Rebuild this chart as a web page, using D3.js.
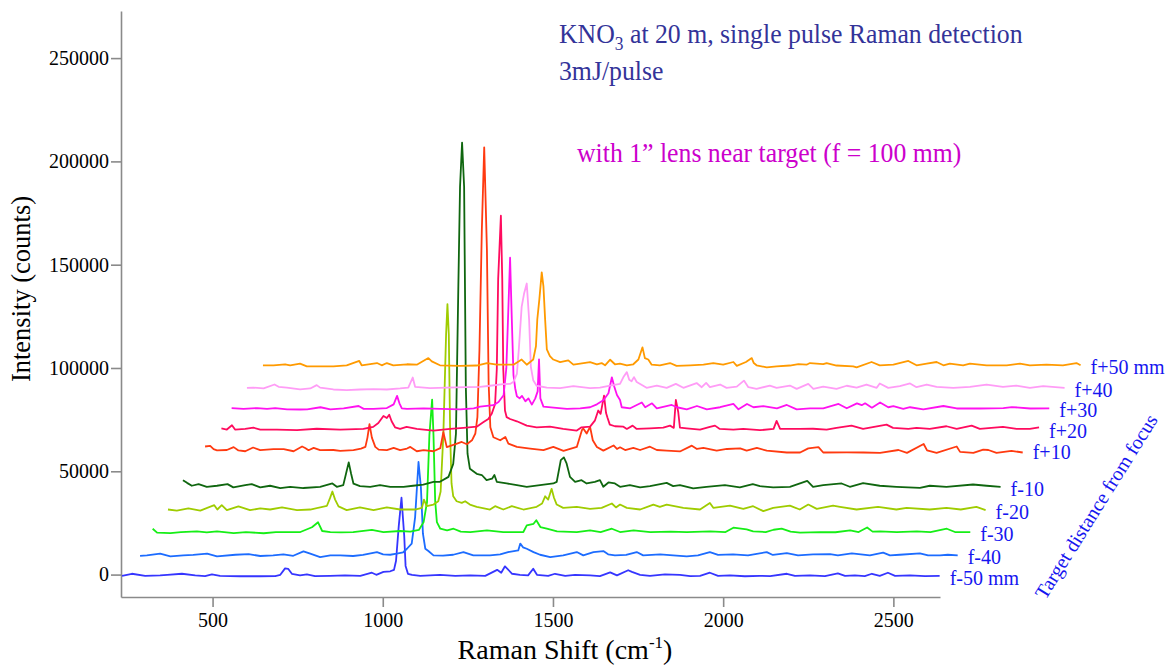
<!DOCTYPE html>
<html>
<head>
<meta charset="utf-8">
<script src="https://cdn.jsdelivr.net/npm/d3@7/dist/d3.min.js"></script>
<style>
  body { margin: 0; background: #fff; }
  svg text { font-family: "Liberation Serif", "Times New Roman", serif; }
</style>
</head>
<body>
<svg id="chart" width="1169" height="666"></svg>
<script>
// spectra: [Raman shift (cm-1), counts above the trace's own baseline]
let fm50 = [[234,0],[263,1000],[302,0],[346,200],[367,500],[410,1000],[449,200],[478,-100],[498,700],[522,0],[581,-200],[640,-200],[684,-100],[699,500],[713,3600],[722,3400],[733,1000],[757,200],[777,700],[801,-100],[845,0],[889,200],[934,0],[968,1500],[981,500],[1002,1900],[1022,2200],[1033,2900],[1039,7300],[1047,24200],[1055,37800],[1063,19400],[1067,4800],[1074,1000],[1086,500],[1110,0],[1168,500],[1213,0],[1257,200],[1301,0],[1336,2900],[1348,1500],[1359,4600],[1380,1000],[1403,500],[1427,200],[1442,3400],[1453,500],[1486,0],[1506,1000],[1536,0],[1565,500],[1609,200],[1638,-100],[1668,1700],[1688,200],[1721,2700],[1732,1900],[1756,500],[1785,0],[1829,700],[1873,500],[1903,-100],[1932,0],[1961,1500],[1985,0],[2020,200],[2064,-200],[2108,0],[2138,-100],[2187,1000],[2211,0],[2255,200],[2299,-100],[2337,1200],[2358,0],[2387,200],[2416,-100],[2437,1000],[2460,0],[2484,1500],[2505,0],[2549,200],[2593,-100],[2636,0]]

let fm40 = [[234,-200],[254,0],[293,800],[323,-500],[361,0],[390,200],[431,800],[460,-500],[514,300],[553,600],[587,-300],[625,0],[655,500],[684,-200],[714,1900],[734,800],[763,-800],[793,0],[822,0],[860,-300],[889,200],[930,1600],[948,500],[969,300],[988,800],[1007,1500],[1018,3200],[1032,5700],[1042,18400],[1052,45200],[1059,32900],[1065,10500],[1072,3200],[1081,2100],[1096,0],[1124,-100],[1154,300],[1184,1600],[1213,0],[1262,0],[1292,500],[1315,1600],[1345,2400],[1351,5700],[1359,3900],[1370,3200],[1390,1600],[1409,300],[1439,-800],[1477,0],[1517,1600],[1536,0],[1566,1600],[1595,2100],[1609,500],[1629,0],[1662,200],[1693,1600],[1712,0],[1762,500],[1800,0],[1840,-500],[1873,0],[1908,1600],[1932,200],[1976,500],[2020,0],[2075,1600],[2093,200],[2134,1100],[2167,0],[2211,500],[2261,600],[2284,0],[2325,1000],[2378,0],[2417,1300],[2437,0],[2466,300],[2525,1000],[2549,0],[2584,0],[2607,300],[2636,0]]

let fm30 = [[234,1600],[247,-300],[286,-500],[317,0],[364,300],[393,-200],[423,300],[472,-500],[508,0],[560,-600],[596,0],[629,0],[668,0],[702,2300],[720,4700],[732,500],[756,0],[787,-200],[823,0],[878,1000],[912,0],[961,500],[991,200],[1016,1000],[1030,4800],[1040,14500],[1047,46900],[1055,64100],[1059,46900],[1064,15000],[1069,4800],[1079,1600],[1099,800],[1118,1600],[1139,200],[1167,0],[1216,800],[1264,0],[1323,0],[1333,3200],[1353,4000],[1361,5700],[1373,2400],[1392,1600],[1422,300],[1480,0],[1519,800],[1550,0],[1583,1600],[1607,0],[1647,800],[1696,0],[1756,200],[1803,0],[1872,300],[1917,0],[1940,2100],[1979,1300],[1998,300],[2035,0],[2058,1100],[2082,1600],[2108,200],[2136,-300],[2195,0],[2240,-100],[2283,800],[2308,0],[2333,2200],[2349,200],[2371,300],[2420,0],[2479,300],[2519,0],[2567,1600],[2591,0],[2636,0]]

let fm20 = [[234,0],[260,-500],[294,500],[329,-500],[370,2100],[379,0],[392,2100],[407,-300],[441,1500],[475,-300],[505,500],[534,0],[569,1000],[613,-300],[652,0],[701,1800],[710,5500],[717,8700],[725,4800],[735,1500],[759,-300],[798,1000],[838,-300],[877,1000],[916,0],[960,0],[980,800],[986,4800],[994,1600],[1014,2400],[1028,4000],[1035,8700],[1043,36300],[1051,84700],[1055,99400],[1059,84700],[1063,36300],[1067,12600],[1072,6400],[1082,4000],[1097,3200],[1107,4000],[1121,2400],[1141,1300],[1180,0],[1195,1600],[1219,0],[1244,1600],[1278,0],[1317,1300],[1333,2900],[1342,6400],[1351,4800],[1361,10000],[1368,5700],[1376,2400],[1395,800],[1435,1300],[1474,300],[1508,800],[1538,2900],[1550,1000],[1562,2400],[1582,800],[1621,0],[1660,2400],[1679,1300],[1699,2400],[1748,800],[1797,0],[1826,3200],[1836,800],[1885,1900],[1924,300],[1953,1600],[1983,-800],[2012,800],[2061,1900],[2090,0],[2115,2400],[2140,300],[2188,1900],[2208,1300],[2257,0],[2320,1300],[2374,0],[2404,800],[2472,0],[2521,800],[2563,0],[2609,1300],[2636,-300]]

let fm10 = [[234,3200],[246,1900],[260,500],[280,1300],[304,0],[334,500],[365,1300],[382,-300],[417,800],[436,1300],[461,-300],[490,500],[520,-600],[549,0],[588,-600],[637,0],[673,1600],[686,0],[705,800],[713,6300],[721,11800],[728,6300],[735,1500],[754,300],[784,0],[813,800],[843,0],[882,0],[910,500],[940,1000],[970,2400],[989,2400],[1014,4800],[1028,11100],[1036,25700],[1043,96800],[1048,145200],[1054,166600],[1060,145200],[1065,48400],[1070,16000],[1077,8700],[1097,6300],[1112,5700],[1126,3200],[1142,3900],[1149,5700],[1156,2400],[1185,1600],[1215,800],[1244,0],[1283,800],[1322,1600],[1332,2400],[1344,12900],[1353,14200],[1361,11300],[1371,4800],[1386,2400],[1405,3200],[1420,1600],[1444,2400],[1459,3200],[1469,0],[1484,2100],[1503,1600],[1518,0],[1547,800],[1577,-300],[1606,300],[1655,1900],[1674,300],[1694,800],[1733,-800],[1772,0],[1826,800],[1870,-300],[1908,1300],[1929,300],[1968,-300],[2017,0],[2068,2900],[2085,0],[2115,800],[2169,1600],[2193,0],[2232,1800],[2281,500],[2330,0],[2399,-500],[2428,500],[2477,0],[2555,1100],[2595,500],[2636,0]]

let fp10 = [[234,1800],[249,2100],[259,500],[269,-100],[298,100],[318,1500],[332,-100],[352,-500],[375,1300],[396,0],[435,500],[465,500],[494,-500],[519,1800],[528,1100],[538,0],[553,1100],[572,0],[611,100],[631,-300],[670,0],[692,800],[705,1600],[711,6100],[717,12600],[724,6100],[734,1600],[744,300],[768,0],[788,1100],[807,0],[827,800],[837,1600],[856,-500],[876,0],[905,-500],[925,1000],[934,8700],[944,1500],[974,3200],[988,4000],[1003,2900],[1018,4800],[1028,8100],[1034,16000],[1040,48400],[1047,106500],[1054,146600],[1062,96800],[1067,32400],[1072,11100],[1081,6300],[1101,4800],[1116,6400],[1125,3200],[1150,1600],[1189,800],[1228,0],[1257,1600],[1287,-300],[1326,1600],[1341,9700],[1345,10500],[1355,8100],[1365,11300],[1373,4800],[1385,1600],[1404,-200],[1434,2300],[1444,600],[1453,1400],[1468,100],[1492,1100],[1512,100],[1541,1700],[1561,100],[1590,-200],[1629,-600],[1664,2200],[1679,600],[1698,1100],[1737,-200],[1767,600],[1806,900],[1825,-200],[1855,1100],[1884,-200],[1943,-1100],[1982,-1100],[2006,900],[2036,1500],[2050,-1100],[2119,-1000],[2168,-1100],[2217,-1300],[2271,100],[2296,-1300],[2345,3000],[2355,-100],[2383,-1300],[2442,1800],[2452,-800],[2491,-1300],[2520,300],[2535,100],[2559,-1300],[2603,-300],[2636,-1100]]

let fp20 = [[234,300],[250,-300],[265,1800],[274,-300],[304,0],[328,600],[348,-300],[397,-300],[456,-600],[514,100],[583,-300],[651,0],[680,1000],[695,2900],[710,6300],[720,5300],[727,6900],[734,3700],[744,800],[759,0],[778,1000],[808,0],[857,-800],[906,0],[945,500],[984,1100],[1003,3200],[1018,4800],[1028,7300],[1038,12100],[1043,29000],[1047,72600],[1055,103200],[1059,72600],[1062,29000],[1067,8900],[1072,5700],[1082,4800],[1102,3700],[1131,1600],[1160,800],[1199,1100],[1238,0],[1278,-800],[1292,800],[1317,1100],[1331,4000],[1341,8900],[1348,7300],[1358,16100],[1364,7700],[1368,5500],[1375,2100],[1390,1300],[1415,1100],[1425,0],[1442,1600],[1454,0],[1493,300],[1532,600],[1552,1600],[1563,500],[1569,14000],[1576,8200],[1581,600],[1601,300],[1640,-300],[1669,1000],[1684,1600],[1698,0],[1738,-300],[1767,0],[1816,-600],[1856,0],[1865,3900],[1875,100],[1933,0],[1972,100],[2012,-300],[2041,500],[2085,1600],[2119,0],[2188,2100],[2207,500],[2252,0],[2276,500],[2315,0],[2364,1300],[2394,0],[2438,1600],[2462,0],[2530,1000],[2570,0],[2609,0],[2636,800]]

let fp30 = [[234,100],[269,-300],[309,100],[338,-300],[362,100],[397,-500],[436,-600],[456,-500],[495,500],[524,-500],[563,0],[607,1100],[622,-300],[651,-300],[690,100],[710,1900],[720,6000],[727,2400],[734,0],[749,-300],[798,0],[847,-300],[906,-500],[945,0],[964,800],[1003,1500],[1018,3000],[1033,6300],[1041,19400],[1046,43600],[1052,72900],[1057,43600],[1062,16000],[1067,9700],[1072,5800],[1080,4800],[1087,6000],[1097,3400],[1106,4800],[1116,1800],[1126,4800],[1133,8200],[1137,23700],[1141,4800],[1150,800],[1180,300],[1219,-300],[1258,0],[1287,500],[1307,1900],[1326,3900],[1341,7300],[1351,15000],[1358,10500],[1366,6400],[1375,4000],[1380,500],[1405,0],[1439,2800],[1449,500],[1469,2400],[1483,0],[1527,1600],[1542,500],[1571,-500],[1601,1100],[1630,-500],[1669,500],[1708,2100],[1723,-500],[1748,2100],[1767,500],[1796,1000],[1836,0],[1865,1600],[1894,-500],[1933,0],[1972,0],[2017,2100],[2041,0],[2071,2400],[2085,1500],[2095,2400],[2115,300],[2139,2800],[2163,500],[2178,1000],[2207,-300],[2227,500],[2266,-500],[2325,1100],[2364,-100],[2433,-100],[2501,100],[2526,600],[2580,-100],[2636,0]]

let fp40 = [[234,0],[253,100],[283,-300],[315,1600],[327,500],[351,100],[390,-800],[420,-300],[439,1300],[449,100],[488,-800],[527,-1100],[566,-800],[606,-600],[645,-800],[684,-300],[708,100],[721,5000],[728,500],[772,-100],[821,100],[880,300],[919,500],[948,1000],[987,1800],[1007,1900],[1017,2900],[1027,6800],[1033,19400],[1041,39200],[1048,45500],[1056,50500],[1063,32800],[1068,10200],[1075,3700],[1085,1000],[1115,100],[1154,-100],[1193,800],[1242,-100],[1271,100],[1301,1100],[1330,1900],[1340,5200],[1350,7600],[1357,3900],[1364,3200],[1371,5200],[1379,2800],[1398,1000],[1408,0],[1438,1100],[1467,0],[1494,1900],[1516,0],[1555,2300],[1570,300],[1583,2400],[1594,300],[1624,1600],[1643,0],[1673,600],[1694,3500],[1707,300],[1731,-500],[1770,1100],[1790,0],[1829,1100],[1849,-500],[1883,1900],[1898,-500],[1927,600],[1966,-500],[1996,1000],[2025,100],[2054,1600],[2084,0],[2093,2100],[2118,0],[2152,800],[2182,2100],[2201,300],[2231,1600],[2260,500],[2309,0],[2358,500],[2407,1600],[2455,500],[2494,1100],[2534,0],[2573,800],[2636,0]]

let fp50 = [[234,0],[265,0],[299,500],[314,0],[343,800],[363,-500],[402,-500],[441,-500],[480,0],[517,2100],[524,0],[569,1100],[583,0],[598,1100],[617,0],[657,500],[686,300],[720,3500],[730,1900],[754,0],[813,-300],[862,-100],[892,1100],[921,300],[970,300],[994,2800],[1009,300],[1028,2800],[1036,9200],[1040,22300],[1046,31900],[1053,45000],[1058,38200],[1063,22100],[1068,7700],[1077,4400],[1087,2800],[1107,1500],[1131,2400],[1146,300],[1166,800],[1195,1500],[1215,500],[1229,1100],[1239,0],[1254,2700],[1268,500],[1283,800],[1303,0],[1322,500],[1337,2800],[1349,8700],[1356,3500],[1366,2800],[1376,300],[1400,0],[1430,1100],[1449,-300],[1489,0],[1528,300],[1557,1100],[1586,300],[1616,1600],[1626,-300],[1653,1600],[1670,3500],[1676,1100],[1684,0],[1714,-1000],[1743,-500],[1782,-100],[1807,600],[1831,300],[1841,1100],[1880,600],[1890,1100],[1919,-100],[1968,-500],[1978,-1000],[2022,1600],[2046,0],[2086,300],[2130,2100],[2154,0],[2184,800],[2213,1600],[2233,0],[2252,800],[2291,0],[2311,800],[2360,0],[2419,0],[2458,800],[2487,0],[2536,300],[2584,0],[2624,1100],[2636,0]]

let spectra = [fm50, fm40, fm30, fm20, fm10, fp10, fp20, fp30, fp40, fp50]
let traceLabels = ['f-50 mm', 'f-40', 'f-30', 'f-20', 'f-10', 'f+10', 'f+20', 'f+30', 'f+40', 'f+50 mm']
// waterfall offsets of each trace
let shiftOffsets = [0, 53, 90, 135, 179, 244, 292, 322, 367, 414]
let countOffsets = [-600, 9300, 20600, 31500, 42500, 60200, 70500, 80500, 90400, 101300]
let traceColors = ['#3535ff', '#1c6cff', '#16ee16', '#9fcc00', '#0f660f', '#ff3a10', '#ff0b5e', '#ff12f0', '#ff9cf6', '#ff9a00']

let xTicks = [500, 1000, 1500, 2000, 2500]
let yTicks = [0, 50000, 100000, 150000, 200000, 250000]

let svg = d3.select('#chart')

let x = d3.scaleLinear().domain([231, 2637]).range([121, 940])
let y = d3.scaleLinear().domain([-10850, 272800]).range([597, 11])

let axisColor = '#8a8a8a'

// axes
let xAxis = d3.axisBottom(x).tickValues(xTicks).tickSize(10).tickSizeOuter(0).tickPadding(6).tickFormat(d3.format('d'))
let yAxis = d3.axisLeft(y).tickValues(yTicks).tickSize(10).tickSizeOuter(0).tickPadding(2).tickFormat(d3.format('d'))

let gx = svg.append('g')
    .attr('transform', 'translate(0,' + y.range()[0] + ')')
    .call(xAxis)
let gy = svg.append('g')
    .attr('transform', 'translate(' + x.range()[0] + ',0)')
    .call(yAxis)

;[gx, gy].forEach(g => {
    g.select('.domain').attr('stroke', axisColor).attr('stroke-width', 1.6)
    g.selectAll('.tick line').attr('stroke', axisColor).attr('stroke-width', 1.6)
    g.selectAll('.tick text')
        .attr('fill', '#000')
        .style('font-family', '"Liberation Serif", "Times New Roman", serif')
        .style('font-size', '20px')
})

// spectra
let line = (dx, dy) => d3.line()
    .x(d => x(d[0] + dx))
    .y(d => y(d[1] + dy))

spectra.forEach((s, i) => {
    svg.append('path')
        .datum(s)
        .attr('fill', 'none')
        .attr('stroke', traceColors[i])
        .attr('stroke-width', 1.8)
        .attr('stroke-linejoin', 'round')
        .attr('d', line(shiftOffsets[i], countOffsets[i]))
})

// trace labels at the right end of each trace
spectra.forEach((s, i) => {
    let last = s[s.length - 1]
    svg.append('text')
        .attr('x', x(last[0] + shiftOffsets[i]) + 10)
        .attr('y', y(countOffsets[i]) + 9)
        .attr('fill', '#1616f0')
        .style('font-size', '20px')
        .text(traceLabels[i])
})

svg.append('text')
    .attr('transform', 'translate(1102,510) rotate(-58)')
    .attr('text-anchor', 'middle')
    .attr('fill', '#1616f0')
    .style('font-size', '20px')
    .text('Target distance from focus')

// axis titles
let xTitle = svg.append('text')
    .attr('x', 565)
    .attr('y', 659)
    .attr('text-anchor', 'middle')
    .attr('fill', '#000')
    .style('font-size', '28px')
xTitle.append('tspan').text('Raman Shift (cm')
xTitle.append('tspan').attr('dy', -11).style('font-size', '17px').text('-1')
xTitle.append('tspan').attr('dy', 11).text(')')

svg.append('text')
    .attr('transform', 'translate(30,289) rotate(-90)')
    .attr('text-anchor', 'middle')
    .attr('fill', '#000')
    .style('font-size', '26.5px')
    .text('Intensity (counts)')

// titles (the original face is narrower than Liberation Serif)
let t1 = svg.append('text')
    .attr('transform', 'translate(559,43) scale(0.92,1)')
    .attr('fill', '#333399')
    .style('font-size', '28px')
t1.append('tspan').text('KNO')
t1.append('tspan').attr('dy', 7).style('font-size', '19px').text('3')
t1.append('tspan').attr('dy', -7).text(' at 20 m, single pulse Raman detection')

svg.append('text')
    .attr('transform', 'translate(559,80) scale(0.92,1)')
    .attr('fill', '#333399')
    .style('font-size', '28px')
    .text('3mJ/pulse')

svg.append('text')
    .attr('transform', 'translate(577,162) scale(0.92,1)')
    .attr('fill', '#cc00cc')
    .style('font-size', '28px')
    .text('with 1\u201d lens near target (f = 100 mm)')
</script>
</body>
</html>
